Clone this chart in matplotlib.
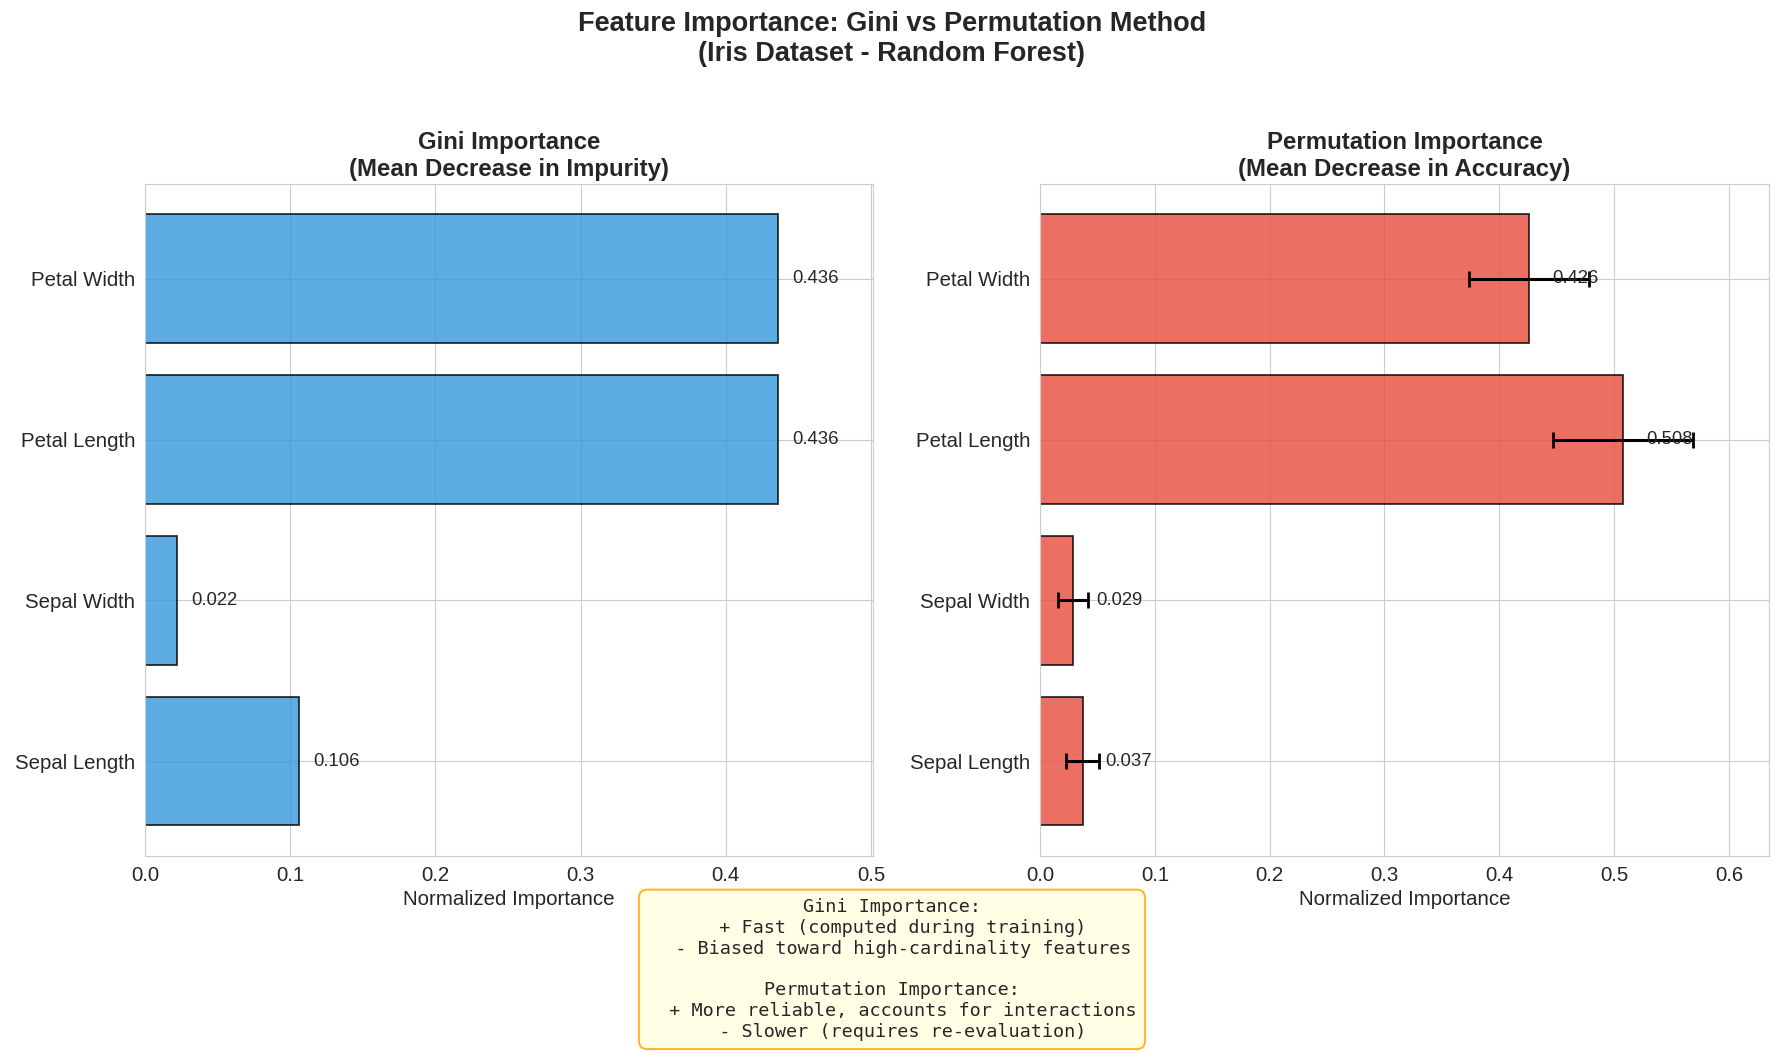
import numpy as np
import matplotlib
matplotlib.use("Agg")
import matplotlib.pyplot as plt
import seaborn as sns

# Data
features = ['Sepal Length', 'Sepal Width', 'Petal Length', 'Petal Width']
gini_imp = [0.106, 0.022, 0.436, 0.436]
perm_imp = [0.037, 0.029, 0.508, 0.426]
perm_std = [0.014, 0.013, 0.061, 0.052]

sns.set_style('whitegrid')
plt.rcParams['font.family'] = ['Liberation Sans', 'DejaVu Sans']

fig = plt.figure(figsize=(17.84, 10.6), dpi=100)
ax1 = fig.add_axes([0.0813, 0.1925, 0.408, 0.634])
ax2 = fig.add_axes([0.583, 0.1925, 0.4086, 0.634])

y = np.arange(len(features))

# Gini
ax1.barh(y, gini_imp, height=0.8, color='#3498db', alpha=0.8,
         edgecolor='black', linewidth=1.3)
for i, v in enumerate(gini_imp):
    ax1.text(v + 0.01, i, f'{v:.3f}', va='center', fontsize=13.3)
ax1.set_yticks(y)
ax1.set_yticklabels(features, fontsize=14.7)
ax1.set_xlim(0, max(gini_imp) * 1.15)
ax1.set_xlabel('Normalized Importance', fontsize=14.8)
ax1.set_title('Gini Importance\n(Mean Decrease in Impurity)',
              fontsize=17.3, fontweight='bold')
ax1.tick_params(axis='x', labelsize=14.7)

# Permutation
ax2.barh(y, perm_imp, height=0.8, color='#e74c3c', alpha=0.8,
         edgecolor='black', linewidth=1.3)
for i, v in enumerate(perm_imp):
    ax2.text(v + 0.02, i, f'{v:.3f}', va='center', fontsize=13.3)
ax2.errorbar(perm_imp, y, xerr=perm_std, fmt='none', ecolor='black',
             elinewidth=2.2, capsize=6, capthick=2)
ax2.set_yticks(y)
ax2.set_yticklabels(features, fontsize=14.7)
ax2.set_xlim(0, max(perm_imp) * 1.25)
ax2.set_xlabel('Normalized Importance', fontsize=14.8)
ax2.set_title('Permutation Importance\n(Mean Decrease in Accuracy)',
              fontsize=17.3, fontweight='bold')
ax2.tick_params(axis='x', labelsize=14.7)

fig.suptitle('Feature Importance: Gini vs Permutation Method\n(Iris Dataset - Random Forest)',
             fontsize=19.5, fontweight='bold', y=0.99, va='top')

note = ('Gini Importance:\n'
        '  + Fast (computed during training)\n'
        '  - Biased toward high-cardinality features\n'
        '\n'
        'Permutation Importance:\n'
        '  + More reliable, accounts for interactions\n'
        '  - Slower (requires re-evaluation)')
fig.text(0.5, 0.0855, note, ha='center', va='center', fontsize=13.3,
         family='DejaVu Sans Mono', multialignment='center',
         bbox=dict(boxstyle='round,pad=0.45', facecolor='lightyellow',
                   edgecolor='orange', alpha=0.8, linewidth=1.5))

fig.savefig('out.png', dpi=100)
